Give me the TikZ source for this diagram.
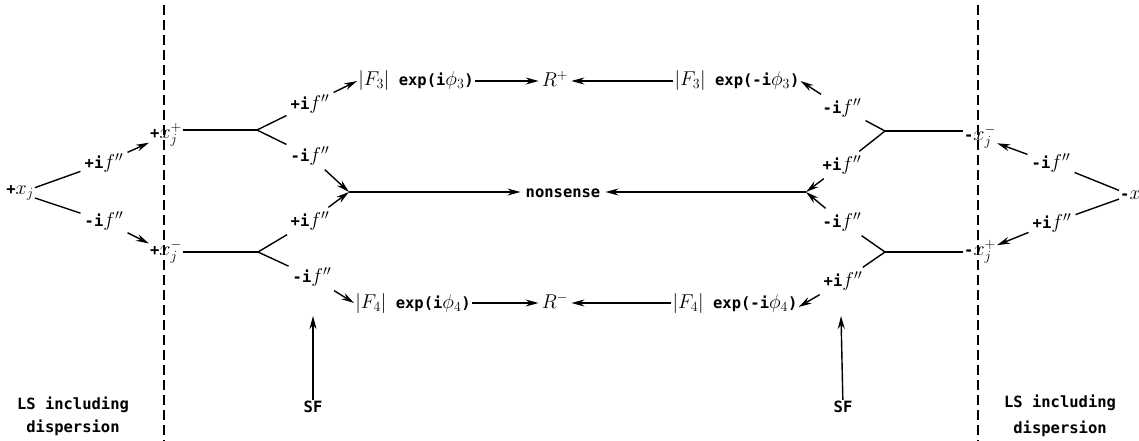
\RequirePackage{fix-cm}
\documentclass[tikz,border=0pt]{standalone}
\usepackage{fontspec}
\setmainfont{DejaVu Sans Mono}
\usetikzlibrary{arrows.meta}
\newcommand{\mm}[1]{{\fontsize{20}{24}\selectfont$#1$}}
\begin{document}
\begin{tikzpicture}[x=1pt,y=-1pt,
  every node/.style={font=\fontsize{15.5}{23}\selectfont\bfseries, inner sep=1pt},
  lab/.style={inner sep=4pt},
  ln/.style={line width=1.4pt},
  arr/.style={line width=1.4pt,-{Stealth[length=13pt,width=7pt]}},
  dline/.style={line width=1.3pt, dash pattern=on 10pt off 5pt}]
\useasboundingbox (0,0) rectangle (1139,441);
% dashed separators
\coordinate (dLt) at (164,5); \coordinate (dLb) at (164,441);
\coordinate (dRt) at (978,5); \coordinate (dRb) at (978,441);
\draw[dline] (dLt) -- (dLb);
\draw[dline] (dRt) -- (dRb);
% left side
\node (xj) at (20,193) {+\mm{x_j}};
\node[lab] (la1) at (104,163) {+i\mm{f''}};
\node[lab] (la2) at (104,221) {-i\mm{f''}};
\node (xjp) at (166,135) {+\mm{x_j^+}};
\node (xjm) at (166,252) {+\mm{x_j^-}};
\coordinate (b1) at (257,130);
\coordinate (b2) at (258,252);
\node[lab] (lb1) at (310,104) {+i\mm{f''}};
\node[lab] (lb2) at (310,156) {-i\mm{f''}};
\node[lab] (lb3) at (310,221) {+i\mm{f''}};
\node[lab] (lb4) at (312,277) {-i\mm{f''}};
\coordinate (c1) at (349,192);
% middle
\node (F3L) at (416,81) {\mm{|F_3|} exp(i\mm{\phi_3})};
\node[inner sep=3pt] (Rp) at (555,79) {\mm{R^+}};
\node (F3R) at (737,81) {\mm{|F_3|} exp(-i\mm{\phi_3})};
\node[inner sep=5pt] (non) at (563,193) {nonsense};
\node (F4L) at (413,303) {\mm{|F_4|} exp(i\mm{\phi_4})};
\node[inner sep=3pt] (Rm) at (555,301) {\mm{R^-}};
\node (F4R) at (735,303) {\mm{|F_4|} exp(-i\mm{\phi_4})};
% right side
\coordinate (c2) at (806,192);
\node[lab] (rc1) at (842,108) {-i\mm{f''}};
\node[lab] (rc2) at (842,165) {+i\mm{f''}};
\node[lab] (rc3) at (842,222) {-i\mm{f''}};
\node[lab] (rc4) at (843,281) {+i\mm{f''}};
\coordinate (b3) at (885,131);
\coordinate (b4) at (885,252);
\node (xjmR) at (980,137) {-\mm{x_j^-}};
\node (xjpR) at (980,252) {-\mm{x_j^+}};
\node[lab] (ra1) at (1051,163) {-i\mm{f''}};
\node[lab] (ra2) at (1052,223) {+i\mm{f''}};
\node[anchor=west] (xR) at (1119,195) {-\mm{x}};
% SF
\node (SFL) at (313,407) {SF};
\node (SFR) at (843,407) {SF};
\coordinate (tL) at (313,316);
\coordinate (tR) at (841,316);
\node[align=center] (LSL) at (73,416) {LS including\\dispersion};
\node[align=center,font=\fontsize{15.5}{26}\selectfont\bfseries] (LSR) at (1060,416) {LS including\\dispersion};
% connectors left
\draw[ln] (xj) -- (la1);
\draw[arr] (la1) -- (xjp);
\draw[ln] (xj) -- (la2);
\draw[arr] (la2) -- (xjm);
\draw[ln] (xjp.east |- b1) -- (b1);
\draw[ln] (xjm.east |- b2) -- (b2);
\draw[ln] (b1) -- (lb1);
\draw[arr] (lb1) -- (F3L.west);
\draw[ln] (b1) -- (lb2);
\draw[arr] (lb2) -- (c1);
\draw[ln] (b2) -- (lb3);
\draw[arr] (lb3) -- (c1);
\draw[ln] (b2) -- (lb4);
\draw[arr] (lb4) -- (F4L.west);
\draw[arr] (c1) -- (c1 -| non.west);
% middle rows
\draw[arr] (F3L.east) -- (F3L.east -| Rp.west);
\draw[arr] (F3R.west) -- (F3R.west -| Rp.east);
\draw[arr] (F4L.east) -- (F4L.east -| Rm.west);
\draw[arr] (F4R.west) -- (F4R.west -| Rm.east);
% connectors right
\draw[arr] (c2) -- (c2 -| non.east);
\draw[ln] (b3) -- (rc1);
\draw[arr] (rc1) -- (F3R.east);
\draw[ln] (b3) -- (rc2);
\draw[arr] (rc2) -- (c2);
\draw[ln] (b4) -- (rc3);
\draw[arr] (rc3) -- (c2);
\draw[ln] (b4) -- (rc4);
\draw[arr] (rc4) -- ([yshift=-4pt]F4R.east);
\draw[ln] (b3) -- (b3 -| xjmR.west);
\draw[ln] (b4) -- (b4 -| xjpR.west);
\draw[ln] (xR) -- (ra1);
\draw[arr] (ra1) -- (xjmR);
\draw[ln] (xR) -- (ra2);
\draw[arr] (ra2) -- (xjpR);
% SF arrows
\draw[arr] (SFL) -- (tL);
\draw[arr] (SFR) -- (tR);
\end{tikzpicture}
\end{document}
